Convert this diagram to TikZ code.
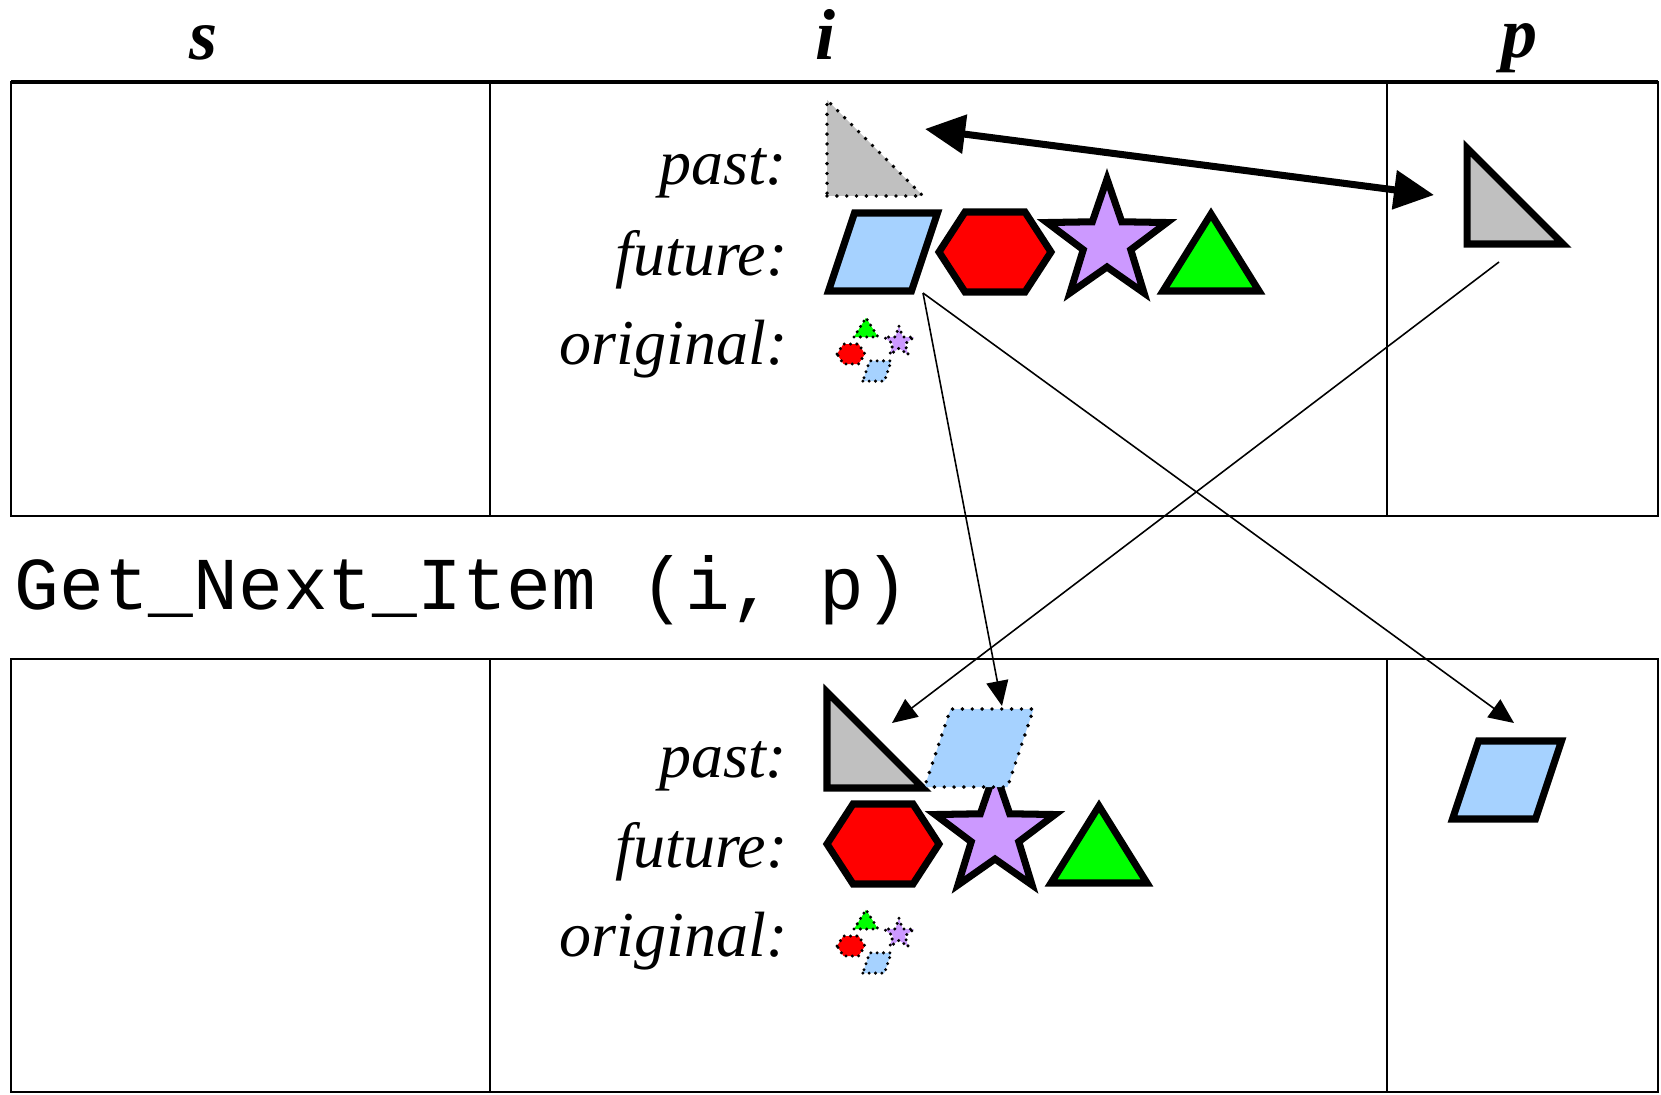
\documentclass[tikz,border=0pt]{standalone}
\usepackage{fontspec}
\setmainfont{Liberation Serif}
\setmonofont{Liberation Mono}
\usetikzlibrary{arrows.meta}
\definecolor{itemgray}{RGB}{192,192,192}
\definecolor{itemblue}{RGB}{166,210,255}
\definecolor{itemred}{RGB}{255,0,0}
\definecolor{itemviolet}{RGB}{204,153,255}
\definecolor{itemgreen}{RGB}{0,255,0}
\tikzset{>=Stealth,
  bold/.style={draw,line width=2pt,line join=miter,miter limit=10},
  dots/.style={draw,line width=1.1pt,line cap=round,dash pattern=on 0pt off 2.8pt},
  tinydots/.style={draw,line width=.95pt,line cap=round,dash pattern=on 0pt off 1.8pt},
  cell/.style={line width=.45pt},
  link/.style={line width=.45pt,-{Triangle[length=.25cm,width=.22cm]}},
  swap/.style={line width=2pt,{Triangle[length=.4cm,width=.38cm]}-{Triangle[length=.4cm,width=.38cm]}},
  lbl/.style={anchor=base east,inner sep=0pt,font=\fontsize{18.2}{21}\selectfont\itshape},
  head/.style={anchor=base,inner sep=0pt,font=\fontsize{20.5}{24}\selectfont\bfseries\itshape},
  rtri/.pic={\path[pic actions] (0,0)--(96,0)--(0,-96)--cycle;},
  para/.pic={\path[pic actions] (-54.5,39)--(28.5,39)--(54.5,-39)--(-28.5,-39)--cycle;},
  hexa/.pic={\path[pic actions] (-56,0)--(-30,-40)--(30,-40)--(56,0)--(30,40)--(-30,40)--cycle;},
  starp/.pic={\path[pic actions] (-90:63)--(-54:25)--(-18:63)--(18:25)--(54:63)--(90:25)--(126:63)--(162:25)--(198:63)--(234:25)--cycle;},
  trip/.pic={\path[pic actions] (-48,0)--(48,0)--(0,-77)--cycle;}}

\begin{document}
\begin{tikzpicture}[x=.01cm,y=-.01cm]
\useasboundingbox (0,0) rectangle (1661,1094);
% table frames
\draw[cell] (11,82) rectangle (1658,516) (490,82)--(490,516) (1387,82)--(1387,516);
\draw[cell] (11,659) rectangle (1658,1092) (490,659)--(490,1092) (1387,659)--(1387,1092);
\draw[line width=1.4pt] (11,82)--(1658,82);
\node[head] (hs) at (204,60) {s};\node[head] (hi) at (826,60) {i};\node[head] (hp) at (1519,58) {p};
\node[anchor=base west,inner sep=0pt,font=\fontsize{21.2}{24}\selectfont\ttfamily] (call) at (14,609) {Get\_Next\_Item (i, p)};
% before the call
\node[lbl] (past1) at (788,185) {past:};\node[lbl] (fut1) at (788,275) {future:};\node[lbl] (orig1) at (788,364) {original:};
\pic[dots,fill=itemgray] (pastA) at (827,196) {rtri};
\pic[bold,fill=itemblue] (futA) at (883,252) {para};
\pic[bold,fill=itemred] (futB) at (995,252) {hexa};
\pic[bold,fill=itemviolet] (futC) at (1107,242) {starp};
\pic[bold,fill=itemgreen] (futD) at (1211,291) {trip};
\pic[bold,fill=itemgray] (curP) at (1467,244) {rtri};
\foreach \dy/\o in {0/origA,592/origB}{
  \pic[tinydots,fill=itemgreen,scale=.25] (\o t) at (866,337+\dy) {trip};
  \pic[tinydots,fill=itemviolet,scale=.25] (\o s) at (899,342+\dy) {starp};
  \pic[tinydots,fill=itemred,scale=.25] (\o h) at (851,354+\dy) {hexa};
  \pic[tinydots,fill=itemblue,scale=.26] (\o p) at (877,371+\dy) {para};}
% after the call
\node[lbl] (past2) at (788,777) {past:};\node[lbl] (fut2) at (788,867) {future:};\node[lbl] (orig2) at (788,956) {original:};
\pic[bold,fill=itemgray] (pastB) at (827,788) {rtri};
\pic[bold,fill=itemred] (futE) at (883,844) {hexa};
\pic[bold,fill=itemviolet] (futF) at (995,834) {starp};
\pic[bold,fill=itemgreen] (futG) at (1099,883) {trip};
\pic[dots,fill=itemblue] (pastC) at (979,748) {para};
\pic[bold,fill=itemblue] (newP) at (1507,780) {para};
% moves
\coordinate (swapL) at (925,129);\coordinate (swapR) at (1434,195);
\coordinate (pOut) at (1499,262);\coordinate (pastIn) at (892,723);
\coordinate (futOut) at (923,293);\coordinate (pastIn2) at (1002,706);\coordinate (pIn) at (1514,723);
\draw[swap] (swapL)--(swapR);
\draw[link] (pOut)--(pastIn);
\draw[link] (futOut)--(pastIn2);
\draw[link] (futOut)--(pIn);
\end{tikzpicture}
\end{document}
